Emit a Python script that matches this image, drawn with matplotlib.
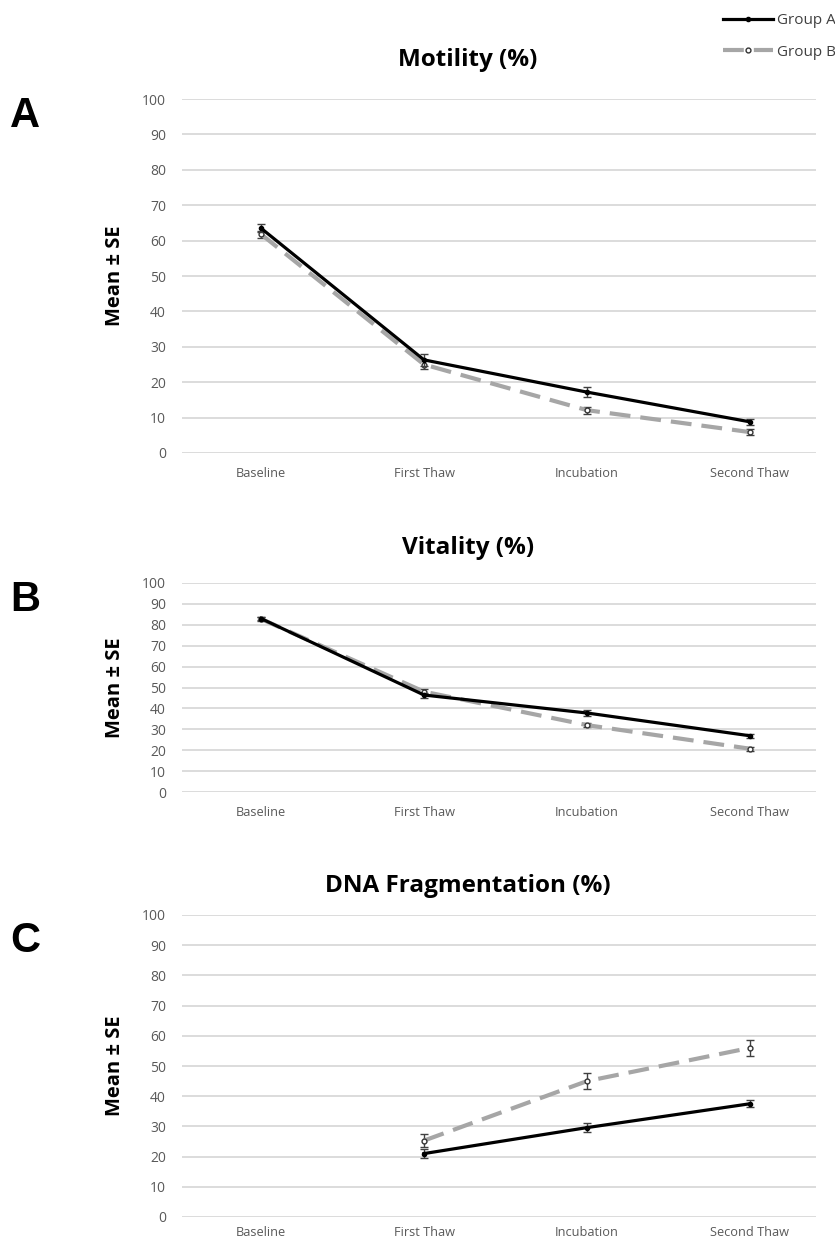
import matplotlib
matplotlib.use("Agg")
import matplotlib.pyplot as plt
from matplotlib.lines import Line2D

categories = ["Baseline", "First Thaw", "Incubation", "Second Thaw"]

# Panel A: Motility (%)
mot_a = [63.5, 26.3, 17.2, 8.8]
mot_a_se = [1.2, 1.8, 1.5, 0.8]
mot_b = [61.8, 25.0, 12.1, 5.9]
mot_b_se = [1.0, 1.3, 1.0, 0.8]

# Panel B: Vitality (%)
vit_a = [83.0, 46.4, 37.8, 26.9]
vit_a_se = [0.8, 1.2, 1.3, 1.0]
vit_b = [82.8, 48.0, 32.0, 20.7]
vit_b_se = [0.8, 1.2, 1.0, 1.0]

# Panel C: DNA Fragmentation (%) (no baseline)
dna_cats = ["First Thaw", "Incubation", "Second Thaw"]
dna_a = [21.0, 29.6, 37.5]
dna_a_se = [1.5, 1.4, 1.2]
dna_b = [25.3, 45.0, 56.0]
dna_b_se = [2.2, 2.6, 2.6]

titles = ["Motility (%)", "Vitality (%)", "DNA Fragmentation (%)"]
letters = ["A", "B", "C"]
ylabel = "Mean \u00b1 SE"
series_names = ["Group A", "Group B"]

W, H = 835, 1241
fig = plt.figure(figsize=(W / 100, H / 100), dpi=100)
plt.rcParams['font.family'] = ['Open Sans', 'DejaVu Sans']

def fx(px):
    return px / W

def fy(py):
    return 1 - py / H

left_px, right_px = 182, 816
panels = [
    (99, 453, titles[0], letters[0], 60, 116, 10),
    (583, 792, titles[1], letters[1], 548, 600, 10),
    (915, 1217, titles[2], letters[2], 886, 941, 6.5),
]
data = [
    (categories, mot_a, mot_a_se, mot_b, mot_b_se),
    (categories, vit_a, vit_a_se, vit_b, vit_b_se),
    (dna_cats, dna_a, dna_a_se, dna_b, dna_b_se),
]

col_a = "black"
col_b = "#a6a6a6"
err_col = "#404040"
dash_b = (0, (5, 2.4))

for (top, bot, title, letter, ty, ly, xpad), (cats, a, ase, b, bse) in zip(panels, data):
    ax = fig.add_axes([fx(left_px), fy(bot), fx(right_px - left_px), (bot - top) / H])
    xa = [categories.index(c) for c in cats]
    ax.errorbar(xa, b, yerr=bse, color=col_b, lw=3.0, ls=dash_b,
                marker="o", ms=3.5, mfc="white", mec="#333333", mew=1.0,
                ecolor=err_col, elinewidth=1.0, capsize=3, capthick=1.0, zorder=3)
    ax.errorbar(xa, a, yerr=ase, color=col_a, lw=2.3, ls="-",
                marker="o", ms=3, mfc="black", mec="black",
                ecolor=err_col, elinewidth=1.0, capsize=3, capthick=1.0, zorder=4)
    ax.set_xlim(-0.485, 3.405)
    ax.set_ylim(0, 100)
    ax.set_yticks(range(0, 101, 10))
    ax.set_xticks(range(len(categories)))
    ax.set_xticklabels(categories)
    ax.yaxis.grid(True, color="#d9d9d9", lw=1.3)
    ax.set_axisbelow(True)
    for s in ax.spines.values():
        s.set_visible(False)
    ax.tick_params(axis="both", length=0, colors="#595959")
    ax.tick_params(axis="x", pad=xpad, labelsize=9.2)
    ax.tick_params(axis="y", pad=11.5, labelsize=10)
    ax.set_ylabel(ylabel, fontsize=14.5, fontweight="bold", color="black")
    ax.yaxis.set_label_coords((125 - left_px) / (right_px - left_px), 0.5)
    fig.text(fx(468), fy(ty), title, ha="center", va="center", fontsize=17.5,
             fontweight="bold")
    fig.text(fx(25), fy(ly), letter, ha="center", va="center", fontsize=30,
             fontweight="bold", family=["Liberation Sans", "DejaVu Sans"])

handles = [
    Line2D([], [], color=col_a, lw=2.3, marker="o", ms=3, mfc="black"),
    Line2D([], [], color=col_b, lw=3.0, ls=dash_b, marker="o", ms=3.5,
           mfc="white", mec="#333333"),
]
fig.legend(handles, series_names, loc="upper left",
           bbox_to_anchor=(fx(723), fy(13)), frameon=False, fontsize=11,
           handlelength=3.3, handletextpad=0.25, labelspacing=1.1,
           borderpad=0, borderaxespad=0, labelcolor="#404040")

fig.savefig("out.png", dpi=100)
